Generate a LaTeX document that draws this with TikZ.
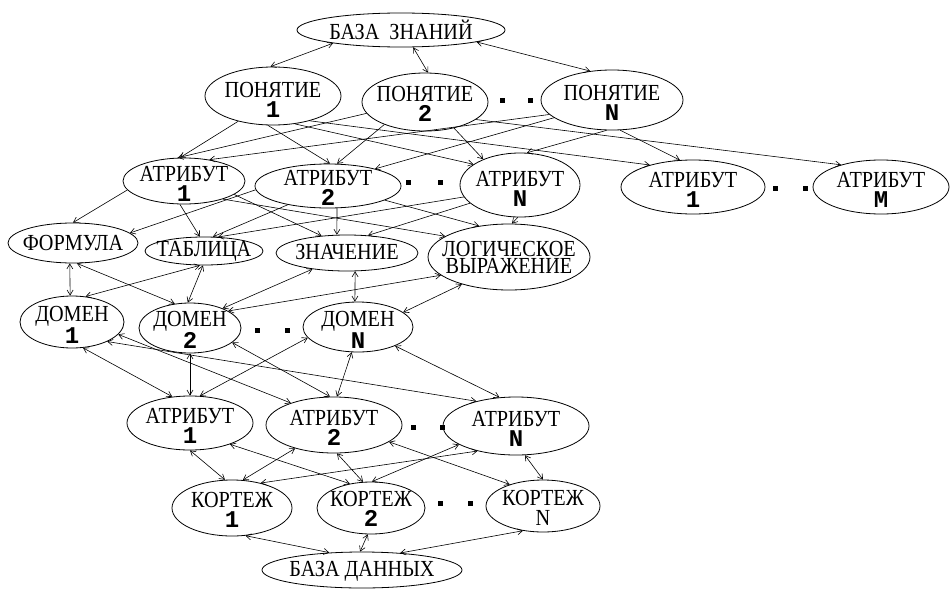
\documentclass[tikz,border=0pt]{standalone}
\usepackage{fontspec}
\setmainfont{Liberation Serif}[FakeStretch=0.88]
\newfontfamily\numf{Liberation Mono}
\usetikzlibrary{arrows.meta,shapes.geometric}
\newcommand\nm[1]{{\fontsize{24}{20}\selectfont\numf\bfseries #1}}
\begin{document}
\begin{tikzpicture}[x=1pt,y=-1pt,
  ell/.style={draw, ellipse, inner sep=0pt, line width=0.8pt},
  lbl/.style={align=center, inner sep=0pt, font=\fontsize{23}{20}\selectfont},
  con/.style={line width=0.6pt, {Straight Barb[length=5pt,width=6pt]}-{Straight Barb[length=5pt,width=6pt]}},
  one/.style={line width=0.6pt, -{Straight Barb[length=5pt,width=6pt]}}
]
\useasboundingbox (0,0) rectangle (952,589);
% ellipses
\node[ell, minimum width=208pt, minimum height=34pt] (kb) at (401,30) {};
\node[ell, minimum width=136pt, minimum height=58pt] (p1) at (273,96) {};
\node[ell, minimum width=126pt, minimum height=58pt] (p2) at (425,102) {};
\node[ell, minimum width=142pt, minimum height=60pt] (pN) at (612,100) {};
\node[ell, minimum width=122pt, minimum height=46pt] (a1) at (184,181) {};
\node[ell, minimum width=146pt, minimum height=44pt] (a2) at (328,186) {};
\node[ell, minimum width=120pt, minimum height=64pt] (aN) at (520,185) {};
\node[ell, minimum width=144pt, minimum height=54pt] (aX) at (693,187) {};
\node[ell, minimum width=136pt, minimum height=54pt] (aM) at (881,187) {};
\node[ell, minimum width=130pt, minimum height=40pt] (fo) at (73,243) {};
\node[ell, minimum width=118pt, minimum height=28pt] (ta) at (204,251) {};
\node[ell, minimum width=142pt, minimum height=36pt] (zn) at (347,253) {};
\node[ell, minimum width=162pt, minimum height=66pt] (lo) at (509,257) {};
\node[ell, minimum width=104pt, minimum height=52pt] (d1) at (72,322) {};
\node[ell, minimum width=102pt, minimum height=50pt] (d2) at (190,328) {};
\node[ell, minimum width=110pt, minimum height=50pt] (dN) at (358,327) {};
\node[ell, minimum width=126pt, minimum height=54pt] (b1) at (190,423) {};
\node[ell, minimum width=136pt, minimum height=56pt] (b2) at (334,425) {};
\node[ell, minimum width=146pt, minimum height=58pt] (bN) at (516,426) {};
\node[ell, minimum width=120pt, minimum height=56pt] (k1) at (232,508) {};
\node[ell, minimum width=108pt, minimum height=52pt] (k2) at (371,508) {};
\node[ell, minimum width=114pt, minimum height=52pt] (kN) at (543,506) {};
\node[ell, minimum width=200pt, minimum height=36pt] (db) at (362,570) {};
% texts
\node[lbl] (kbt) at (401,30) {БАЗА\hspace{10pt}ЗНАНИЙ};
\node[lbl] (p1t) at (273,100) {ПОНЯТИЕ\\\nm{1}};
\node[lbl] (p2t) at (425,104) {ПОНЯТИЕ\\\nm{2}};
\node[lbl] (pNt) at (612,103) {ПОНЯТИЕ\\\nm{N}};
\node[lbl] (a1t) at (184,184) {АТРИБУТ\\\nm{1}};
\node[lbl] (a2t) at (328,188) {АТРИБУТ\\\nm{2}};
\node[lbl] (aNt) at (520,189) {АТРИБУТ\\\nm{N}};
\node[lbl] (aXt) at (693,190) {АТРИБУТ\\\nm{1}};
\node[lbl] (aMt) at (881,190) {АТРИБУТ\\\nm{M}};
\node[lbl] (fot) at (73,243) {ФОРМУЛА};
\node[lbl] (tat) at (204,251) {ТАБЛИЦА};
\node[lbl] (znt) at (347,252) {ЗНАЧЕНИЕ};
\node[lbl, font=\fontsize{23}{17}\selectfont] (lot) at (509,257) {ЛОГИЧЕСКОЕ\\ВЫРАЖЕНИЕ};
\node[lbl] (d1t) at (72,325) {ДОМЕН\\\nm{1}};
\node[lbl] (d2t) at (190,330) {ДОМЕН\\\nm{2}};
\node[lbl] (dNt) at (358,330) {ДОМЕН\\\nm{N}};
\node[lbl] (b1t) at (190,426) {АТРИБУТ\\\nm{1}};
\node[lbl] (b2t) at (334,428) {АТРИБУТ\\\nm{2}};
\node[lbl] (bNt) at (516,429) {АТРИБУТ\\\nm{N}};
\node[lbl] (k1t) at (232,510) {КОРТЕЖ\\\nm{1}};
\node[lbl] (k2t) at (371,509) {КОРТЕЖ\\\nm{2}};
\node[lbl] (kNt) at (543,508) {КОРТЕЖ\\N};
\node[lbl] (dbt) at (362,571) {БАЗА ДАННЫХ};
% dots
\foreach \x/\y in {502/100,530/100,408/182,440/182,775/188,805/188,257/330,287/330,413/427,442/427,440/503,470/503}
  \fill (\x-2.5,\y-2.5) rectangle (\x+2.5,\y+2.5);
% top
\draw[con] (kb.191) -- (p1.95);
\draw[con] (kb.305) -- (p2.84);
\draw[con] (kb.351) -- (pN.127);
% concepts -> attributes
\draw[one] (p1.216) -- (a1.100);
\draw[one] (p1.260) -- (a2.85);
\draw[one] (p1.308) -- (aN.156);
\draw[one] (p1.326) -- (aX.153);
\draw[one] (p2.191) -- (a1.105);
\draw[one] (p2.209) -- (a2.68);
\draw[one] (p2.318) -- (aN.145);
\draw[one] (p2.341) -- (aM.151);
\draw[one] (pN.193) -- (a1.40);
\draw[one] (pN.197) -- (a2.20);
\draw[one] (pN.260) -- (aN.78);
\draw[one] (pN.285) -- (aX.116);
% attributes -> value kinds
\draw[one] (a1.189) -- (fo.90);
\draw[one] (a1.260) -- (ta.106);
\draw[one] (a1.345) -- (zn.146);
\draw[one] (a1.335) -- (lo.162);
\draw[one] (a2.183) -- (fo.10);
\draw[one] (a2.205) -- (ta.58);
\draw[one] (a2.292) -- (zn.119);
\draw[one] (a2.346) -- (lo.134);
\draw[one] (aN.192) -- (ta.45);
\draw[one] (aN.200) -- (zn.40);
\draw[one] (aN.266) -- (lo.85);
% value kinds <-> domains
\draw[con] (fo.261) -- (d1.94);
\draw[con] (fo.281) -- (d2.122);
\draw[con] (ta.254) -- (d1.62);
\draw[con] (ta.266) -- (d2.95);
\draw[con] (zn.205) -- (d2.31);
\draw[con] (lo.195) -- (d2.24);
\draw[con] (zn.294) -- (dN.97);
\draw[con] (lo.210) -- (dN.18);
% domains <-> attributes
\draw[con] (d1.293) -- (b1.124);
\draw[con] (d1.345) -- (b2.153);
\draw[con] (d1.331) -- (bN.148);
\draw[con] (d2.270) -- (b1.90);
\draw[con] (d2.341) -- (b2.98);
\draw[con] (dN.192) -- (b1.70);
\draw[con] (dN.256) -- (b2.84);
\draw[con] (dN.333) -- (bN.120);
% attributes <-> tuples
\draw[con] (b1.270) -- (k1.104);
\draw[con] (b1.332) -- (k2.131);
\draw[con] (b2.211) -- (k1.69);
\draw[con] (b2.276) -- (k2.107);
\draw[con] (b2.343) -- (kN.147);
\draw[con] (bN.213) -- (k1.41);
\draw[con] (bN.198) -- (k2.88);
\draw[con] (bN.287) -- (kN.90);
% tuples <-> database
\draw[con] (k1.296) -- (db.152);
\draw[con] (k2.263) -- (db.96);
\draw[con] (kN.231) -- (db.24);
\end{tikzpicture}
\end{document}
